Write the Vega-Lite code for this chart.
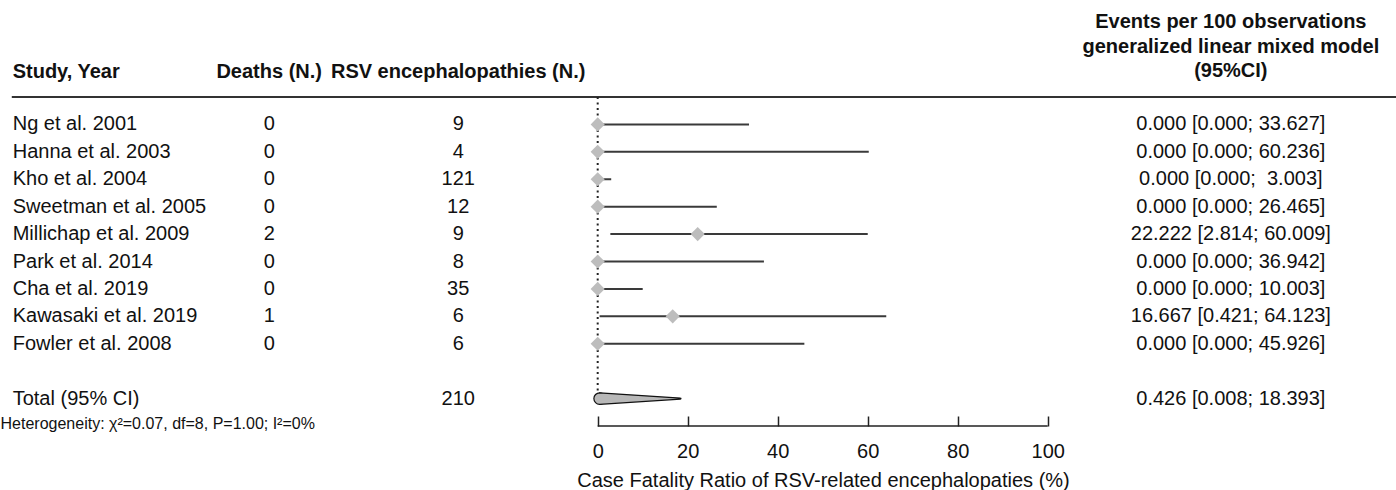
{
  "$schema": "https://vega.github.io/schema/vega-lite/v6.json",
  "width": 1396,
  "height": 329,
  "autosize": {"type": "none"},
  "padding": {"left": 0, "top": 97, "right": 0, "bottom": 64},
  "background": "white",
  "config": {
    "view": {"stroke": null},
    "text": {"font": "Liberation Sans", "fontSize": 20, "color": "#111"}
  },
  "resolve": {"scale": {"size": "independent"}, "axis": {"x": "independent"}},
  "datasets": {
    "rows": [
      {"label": "Ng et al. 2001", "kind": "study", "deaths": "0", "n": 9, "est": 0, "lo": 0, "hi": 33.627, "ci": "0.000 [0.000; 33.627]"},
      {"label": "Hanna et al. 2003", "kind": "study", "deaths": "0", "n": 4, "est": 0, "lo": 0, "hi": 60.236, "ci": "0.000 [0.000; 60.236]"},
      {"label": "Kho et al. 2004", "kind": "study", "deaths": "0", "n": 121, "est": 0, "lo": 0, "hi": 3.003, "ci": "0.000 [0.000;\u00a0 3.003]"},
      {"label": "Sweetman et al. 2005", "kind": "study", "deaths": "0", "n": 12, "est": 0, "lo": 0, "hi": 26.465, "ci": "0.000 [0.000; 26.465]"},
      {"label": "Millichap et al. 2009", "kind": "study", "deaths": "2", "n": 9, "est": 22.222, "lo": 2.814, "hi": 60.009, "ci": "22.222 [2.814; 60.009]"},
      {"label": "Park et al. 2014", "kind": "study", "deaths": "0", "n": 8, "est": 0, "lo": 0, "hi": 36.942, "ci": "0.000 [0.000; 36.942]"},
      {"label": "Cha et al. 2019", "kind": "study", "deaths": "0", "n": 35, "est": 0, "lo": 0, "hi": 10.003, "ci": "0.000 [0.000; 10.003]"},
      {"label": "Kawasaki et al. 2019", "kind": "study", "deaths": "1", "n": 6, "est": 16.667, "lo": 0.421, "hi": 64.123, "ci": "16.667 [0.421; 64.123]"},
      {"label": "Fowler et al. 2008", "kind": "study", "deaths": "0", "n": 6, "est": 0, "lo": 0, "hi": 45.926, "ci": "0.000 [0.000; 45.926]"},
      {"label": "Total (95% CI)", "kind": "total", "n": 210, "est": 0.426, "lo": 0.008, "hi": 18.393, "ci": "0.426 [0.008; 18.393]"}
    ],
    "headers": [
      {"col": "study", "text": "Study, Year"},
      {"col": "deaths", "text": "Deaths (N.)"},
      {"col": "n", "text": "RSV encephalopathies (N.)"},
      {"col": "ci", "text": "Events per 100 observations\ngeneralized linear mixed model\n(95%CI)"},
      {"col": "het", "text": "Heterogeneity: χ²=0.07, df=8, P=1.00; I²=0%"}
    ]
  },
  "data": {"name": "rows"},
  "layer": [
    {
      "data": {"name": "headers"},
      "transform": [{"filter": "datum.col === 'study'"}],
      "mark": {"type": "rule", "stroke": "#333", "strokeWidth": 1.8},
      "encoding": {
        "x": {"datum": -130.2, "type": "quantitative", "scale": {"domain": [-132.82, 177.4], "nice": false, "zero": false}, "axis": null},
        "x2": {"datum": 177.4},
        "y": {"datum": "h", "type": "nominal", "scale": {"type": "point", "padding": 0, "domain": ["h", "Ng et al. 2001", "Hanna et al. 2003", "Kho et al. 2004", "Sweetman et al. 2005", "Millichap et al. 2009", "Park et al. 2014", "Cha et al. 2019", "Kawasaki et al. 2019", "Fowler et al. 2008", "gap", "Total (95% CI)", "het"]}, "axis": null}
      }
    },
    {
      "transform": [{"filter": "datum.kind === 'total'"}],
      "mark": {"type": "rule", "stroke": "#222", "strokeWidth": 2, "strokeDash": [2, 3.5]},
      "encoding": {
        "x": {"datum": 0, "type": "quantitative", "scale": {"domain": [-132.82, 177.4], "nice": false, "zero": false}, "axis": null},
        "y": {"datum": "h", "type": "nominal", "scale": {"type": "point", "padding": 0, "domain": ["h", "Ng et al. 2001", "Hanna et al. 2003", "Kho et al. 2004", "Sweetman et al. 2005", "Millichap et al. 2009", "Park et al. 2014", "Cha et al. 2019", "Kawasaki et al. 2019", "Fowler et al. 2008", "gap", "Total (95% CI)", "het"]}, "axis": null},
        "y2": {"datum": "Total (95% CI)"}
      }
    },
    {
      "transform": [{"filter": "datum.kind === 'study'"}],
      "mark": {"type": "rule", "stroke": "#3a3a3a", "strokeWidth": 2},
      "encoding": {
        "x": {
          "field": "lo", "type": "quantitative",
          "scale": {"domain": [-132.82, 177.4], "nice": false, "zero": false},
          "axis": {
            "values": [0, 20, 40, 60, 80, 100], "format": "d",
            "domain": false, "grid": false,
            "ticks": true, "tickSize": -10, "tickColor": "#222", "tickWidth": 1.5,
            "labelFont": "Liberation Sans", "labelFontSize": 20, "labelColor": "#111",
            "labelPadding": 25, "labelFlush": false, "labelOverlap": false,
            "title": "Case Fatality Ratio of RSV-related encephalopaties (%)",
            "titleFont": "Liberation Sans", "titleFontSize": 20, "titleFontWeight": "normal", "titleColor": "#111",
            "titleX": 823, "titleY": 54, "titleAlign": "center", "titleBaseline": "middle"
          }
        },
        "x2": {"field": "hi"},
        "y": {"field": "label", "type": "nominal", "scale": {"type": "point", "padding": 0, "domain": ["h", "Ng et al. 2001", "Hanna et al. 2003", "Kho et al. 2004", "Sweetman et al. 2005", "Millichap et al. 2009", "Park et al. 2014", "Cha et al. 2019", "Kawasaki et al. 2019", "Fowler et al. 2008", "gap", "Total (95% CI)", "het"]}, "axis": null}
      }
    },
    {
      "transform": [{"filter": "datum.kind === 'study'"}],
      "mark": {"type": "point", "shape": "diamond", "filled": true, "color": "#bdbdbd", "opacity": 1, "size": 200, "strokeWidth": 0},
      "encoding": {
        "x": {"field": "est", "type": "quantitative", "scale": {"domain": [-132.82, 177.4], "nice": false, "zero": false}, "axis": null},
        "y": {"field": "label", "type": "nominal", "scale": {"type": "point", "padding": 0, "domain": ["h", "Ng et al. 2001", "Hanna et al. 2003", "Kho et al. 2004", "Sweetman et al. 2005", "Millichap et al. 2009", "Park et al. 2014", "Cha et al. 2019", "Kawasaki et al. 2019", "Fowler et al. 2008", "gap", "Total (95% CI)", "het"]}, "axis": null}
      }
    },
    {
      "transform": [
        {"filter": "datum.kind === 'total'"},
        {"fold": ["lo", "est"], "as": ["bound", "value"]}
      ],
      "mark": {"type": "trail", "fill": "#b8b8b8", "stroke": "#111", "strokeWidth": 1.2},
      "encoding": {
        "x": {"field": "value", "type": "quantitative", "scale": {"domain": [-132.82, 177.4], "nice": false, "zero": false}, "axis": null},
        "y": {"field": "label", "type": "nominal", "scale": {"type": "point", "padding": 0, "domain": ["h", "Ng et al. 2001", "Hanna et al. 2003", "Kho et al. 2004", "Sweetman et al. 2005", "Millichap et al. 2009", "Park et al. 2014", "Cha et al. 2019", "Kawasaki et al. 2019", "Fowler et al. 2008", "gap", "Total (95% CI)", "het"]}, "axis": null},
        "size": {"field": "bound", "type": "ordinal", "scale": {"type": "point", "padding": 0, "domain": ["lo", "est"], "range": [0, 11.5]}, "legend": null},
        "order": {"field": "value", "type": "quantitative"}
      }
    },
    {
      "transform": [
        {"filter": "datum.kind === 'total'"},
        {"fold": ["est", "hi"], "as": ["bound2", "value2"]}
      ],
      "mark": {"type": "trail", "fill": "#b8b8b8", "stroke": "#111", "strokeWidth": 1.2},
      "encoding": {
        "x": {"field": "value2", "type": "quantitative", "scale": {"domain": [-132.82, 177.4], "nice": false, "zero": false}, "axis": null},
        "y": {"field": "label", "type": "nominal", "scale": {"type": "point", "padding": 0, "domain": ["h", "Ng et al. 2001", "Hanna et al. 2003", "Kho et al. 2004", "Sweetman et al. 2005", "Millichap et al. 2009", "Park et al. 2014", "Cha et al. 2019", "Kawasaki et al. 2019", "Fowler et al. 2008", "gap", "Total (95% CI)", "het"]}, "axis": null},
        "size": {"field": "bound2", "type": "ordinal", "scale": {"type": "point", "padding": 0, "domain": ["hi", "est"], "range": [0, 11.5]}, "legend": null},
        "order": {"field": "value2", "type": "quantitative"}
      }
    },
    {
      "transform": [{"filter": "datum.kind === 'total'"}],
      "mark": {"type": "rule", "stroke": "#222", "strokeWidth": 1.5},
      "encoding": {
        "x": {"datum": 0, "type": "quantitative", "scale": {"domain": [-132.82, 177.4], "nice": false, "zero": false}, "axis": null},
        "x2": {"datum": 100},
        "y": {"datum": "het", "type": "nominal", "scale": {"type": "point", "padding": 0, "domain": ["h", "Ng et al. 2001", "Hanna et al. 2003", "Kho et al. 2004", "Sweetman et al. 2005", "Millichap et al. 2009", "Park et al. 2014", "Cha et al. 2019", "Kawasaki et al. 2019", "Fowler et al. 2008", "gap", "Total (95% CI)", "het"]}, "axis": null}
      }
    },
    {
      "mark": {"type": "text", "align": "left", "baseline": "middle"},
      "encoding": {
        "x": {"datum": -130, "type": "quantitative", "scale": {"domain": [-132.82, 177.4], "nice": false, "zero": false}, "axis": null},
        "y": {"field": "label", "type": "nominal", "scale": {"type": "point", "padding": 0, "domain": ["h", "Ng et al. 2001", "Hanna et al. 2003", "Kho et al. 2004", "Sweetman et al. 2005", "Millichap et al. 2009", "Park et al. 2014", "Cha et al. 2019", "Kawasaki et al. 2019", "Fowler et al. 2008", "gap", "Total (95% CI)", "het"]}, "axis": null},
        "text": {"field": "label", "type": "nominal"}
      }
    },
    {
      "transform": [{"filter": "datum.kind === 'study'"}],
      "mark": {"type": "text", "align": "center", "baseline": "middle"},
      "encoding": {
        "x": {"datum": -73, "type": "quantitative", "scale": {"domain": [-132.82, 177.4], "nice": false, "zero": false}, "axis": null},
        "y": {"field": "label", "type": "nominal", "scale": {"type": "point", "padding": 0, "domain": ["h", "Ng et al. 2001", "Hanna et al. 2003", "Kho et al. 2004", "Sweetman et al. 2005", "Millichap et al. 2009", "Park et al. 2014", "Cha et al. 2019", "Kawasaki et al. 2019", "Fowler et al. 2008", "gap", "Total (95% CI)", "het"]}, "axis": null},
        "text": {"field": "deaths", "type": "nominal"}
      }
    },
    {
      "mark": {"type": "text", "align": "center", "baseline": "middle"},
      "encoding": {
        "x": {"datum": -31, "type": "quantitative", "scale": {"domain": [-132.82, 177.4], "nice": false, "zero": false}, "axis": null},
        "y": {"field": "label", "type": "nominal", "scale": {"type": "point", "padding": 0, "domain": ["h", "Ng et al. 2001", "Hanna et al. 2003", "Kho et al. 2004", "Sweetman et al. 2005", "Millichap et al. 2009", "Park et al. 2014", "Cha et al. 2019", "Kawasaki et al. 2019", "Fowler et al. 2008", "gap", "Total (95% CI)", "het"]}, "axis": null},
        "text": {"field": "n", "type": "quantitative", "format": "d"}
      }
    },
    {
      "mark": {"type": "text", "align": "center", "baseline": "middle"},
      "encoding": {
        "x": {"datum": 140.7, "type": "quantitative", "scale": {"domain": [-132.82, 177.4], "nice": false, "zero": false}, "axis": null},
        "y": {"field": "label", "type": "nominal", "scale": {"type": "point", "padding": 0, "domain": ["h", "Ng et al. 2001", "Hanna et al. 2003", "Kho et al. 2004", "Sweetman et al. 2005", "Millichap et al. 2009", "Park et al. 2014", "Cha et al. 2019", "Kawasaki et al. 2019", "Fowler et al. 2008", "gap", "Total (95% CI)", "het"]}, "axis": null},
        "text": {"field": "ci", "type": "nominal"}
      }
    },
    {
      "data": {"name": "headers"},
      "transform": [{"filter": "datum.col === 'study'"}],
      "mark": {"type": "text", "align": "left", "baseline": "middle", "fontWeight": "bold", "dy": -25},
      "encoding": {
        "x": {"datum": -130, "type": "quantitative", "scale": {"domain": [-132.82, 177.4], "nice": false, "zero": false}, "axis": null},
        "y": {"datum": "h", "type": "nominal", "scale": {"type": "point", "padding": 0, "domain": ["h", "Ng et al. 2001", "Hanna et al. 2003", "Kho et al. 2004", "Sweetman et al. 2005", "Millichap et al. 2009", "Park et al. 2014", "Cha et al. 2019", "Kawasaki et al. 2019", "Fowler et al. 2008", "gap", "Total (95% CI)", "het"]}, "axis": null},
        "text": {"field": "text", "type": "nominal"}
      }
    },
    {
      "data": {"name": "headers"},
      "transform": [{"filter": "datum.col === 'deaths'"}],
      "mark": {"type": "text", "align": "center", "baseline": "middle", "fontWeight": "bold", "dy": -25},
      "encoding": {
        "x": {"datum": -73, "type": "quantitative", "scale": {"domain": [-132.82, 177.4], "nice": false, "zero": false}, "axis": null},
        "y": {"datum": "h", "type": "nominal", "scale": {"type": "point", "padding": 0, "domain": ["h", "Ng et al. 2001", "Hanna et al. 2003", "Kho et al. 2004", "Sweetman et al. 2005", "Millichap et al. 2009", "Park et al. 2014", "Cha et al. 2019", "Kawasaki et al. 2019", "Fowler et al. 2008", "gap", "Total (95% CI)", "het"]}, "axis": null},
        "text": {"field": "text", "type": "nominal"}
      }
    },
    {
      "data": {"name": "headers"},
      "transform": [{"filter": "datum.col === 'n'"}],
      "mark": {"type": "text", "align": "center", "baseline": "middle", "fontWeight": "bold", "dy": -25},
      "encoding": {
        "x": {"datum": -31, "type": "quantitative", "scale": {"domain": [-132.82, 177.4], "nice": false, "zero": false}, "axis": null},
        "y": {"datum": "h", "type": "nominal", "scale": {"type": "point", "padding": 0, "domain": ["h", "Ng et al. 2001", "Hanna et al. 2003", "Kho et al. 2004", "Sweetman et al. 2005", "Millichap et al. 2009", "Park et al. 2014", "Cha et al. 2019", "Kawasaki et al. 2019", "Fowler et al. 2008", "gap", "Total (95% CI)", "het"]}, "axis": null},
        "text": {"field": "text", "type": "nominal"}
      }
    },
    {
      "data": {"name": "headers"},
      "transform": [{"filter": "datum.col === 'ci'"}],
      "mark": {"type": "text", "align": "center", "baseline": "middle", "fontWeight": "bold", "dy": -75, "lineBreak": "\n", "lineHeight": 24.5},
      "encoding": {
        "x": {"datum": 140.7, "type": "quantitative", "scale": {"domain": [-132.82, 177.4], "nice": false, "zero": false}, "axis": null},
        "y": {"datum": "h", "type": "nominal", "scale": {"type": "point", "padding": 0, "domain": ["h", "Ng et al. 2001", "Hanna et al. 2003", "Kho et al. 2004", "Sweetman et al. 2005", "Millichap et al. 2009", "Park et al. 2014", "Cha et al. 2019", "Kawasaki et al. 2019", "Fowler et al. 2008", "gap", "Total (95% CI)", "het"]}, "axis": null},
        "text": {"field": "text", "type": "nominal"}
      }
    },
    {
      "data": {"name": "headers"},
      "transform": [{"filter": "datum.col === 'het'"}],
      "mark": {"type": "text", "align": "left", "baseline": "middle", "fontSize": 16, "dy": -2},
      "encoding": {
        "x": {"datum": -132.7, "type": "quantitative", "scale": {"domain": [-132.82, 177.4], "nice": false, "zero": false}, "axis": null},
        "y": {"datum": "het", "type": "nominal", "scale": {"type": "point", "padding": 0, "domain": ["h", "Ng et al. 2001", "Hanna et al. 2003", "Kho et al. 2004", "Sweetman et al. 2005", "Millichap et al. 2009", "Park et al. 2014", "Cha et al. 2019", "Kawasaki et al. 2019", "Fowler et al. 2008", "gap", "Total (95% CI)", "het"]}, "axis": null},
        "text": {"field": "text", "type": "nominal"}
      }
    }
  ]
}
